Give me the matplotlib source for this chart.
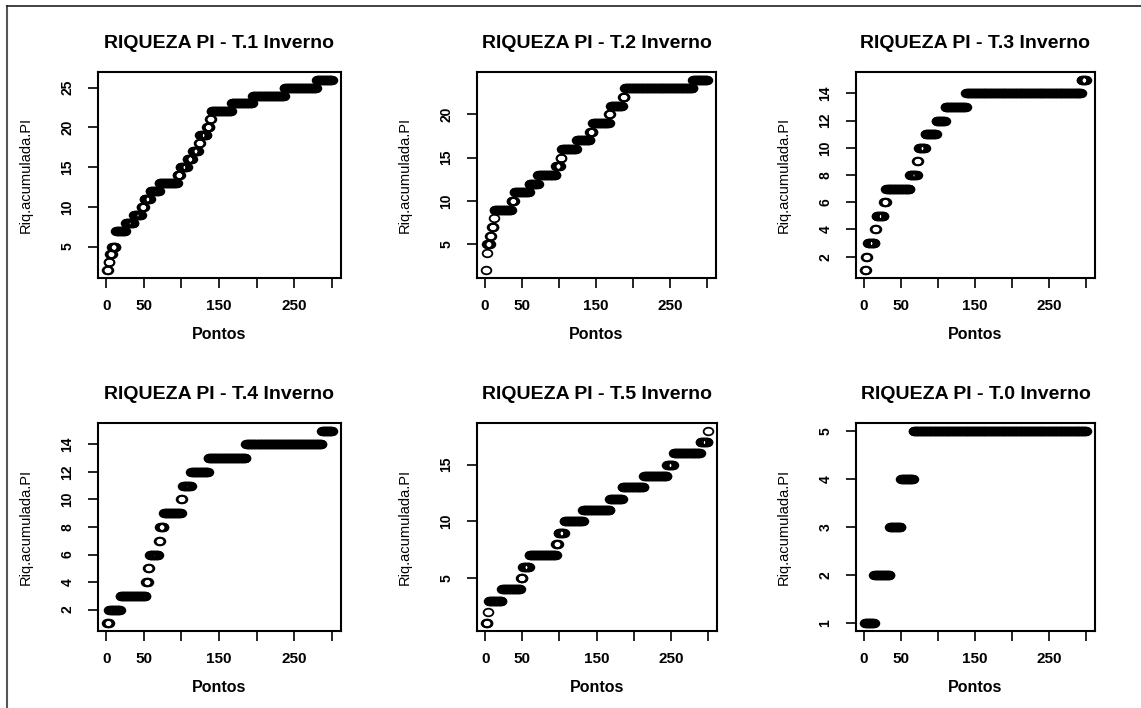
import numpy as np
import matplotlib
matplotlib.use('Agg')
import matplotlib.pyplot as plt
from matplotlib.lines import Line2D
from matplotlib.path import Path
from matplotlib.transforms import Affine2D

plt.rcParams['font.family'] = ['Liberation Sans', 'DejaVu Sans']

n_pontos = 300

titles = ['RIQUEZA PI - T.1 Inverno', 'RIQUEZA PI - T.2 Inverno',
          'RIQUEZA PI - T.3 Inverno', 'RIQUEZA PI - T.4 Inverno',
          'RIQUEZA PI - T.5 Inverno', 'RIQUEZA PI - T.0 Inverno']

# accumulated richness levels and the point index where each level starts
t1_levels = [2, 3, 4, 5, 7, 8, 9, 10, 11, 12, 13, 14, 15, 16, 17, 18, 19, 20, 21, 22, 23, 24, 25, 26]
t1_start = [1, 3, 5, 8, 13, 26, 37, 47, 51, 59, 71, 95, 99, 108, 115, 123, 125, 134, 138, 140, 167, 195, 237, 280]

t2_levels = [2, 4, 5, 6, 7, 8, 9, 10, 11, 12, 13, 14, 15, 16, 17, 18, 19, 20, 21, 22, 23, 24]
t2_start = [1, 2, 3, 7, 9, 12, 13, 36, 40, 60, 72, 96, 102, 104, 124, 142, 146, 168, 170, 186, 189, 281]

t3_levels = [1, 2, 3, 4, 5, 6, 7, 8, 9, 10, 11, 12, 13, 14, 15]
t3_start = [1, 3, 5, 15, 17, 27, 30, 62, 72, 74, 83, 98, 110, 138, 294]

t4_levels = [1, 2, 3, 4, 5, 6, 7, 8, 9, 10, 11, 12, 13, 14, 15]
t4_start = [1, 4, 19, 53, 56, 58, 70, 72, 77, 100, 102, 113, 136, 186, 287]

t5_levels = [1, 2, 3, 4, 5, 6, 7, 8, 9, 10, 11, 12, 13, 14, 15, 16, 17, 18]
t5_start = [1, 4, 5, 23, 48, 51, 60, 96, 99, 107, 132, 168, 185, 214, 245, 254, 290, 300]

t0_levels = [1, 2, 3, 4, 5]
t0_start = [1, 14, 35, 50, 67]

series = [(t1_levels, t1_start), (t2_levels, t2_start), (t3_levels, t3_start),
          (t4_levels, t4_start), (t5_levels, t5_start), (t0_levels, t0_start)]

yticks = [[5, 10, 15, 20, 25], [5, 10, 15, 20], [2, 4, 6, 8, 10, 12, 14],
          [2, 4, 6, 8, 10, 12, 14], [5, 10, 15], [1, 2, 3, 4, 5]]
xticks = [0, 50, 100, 150, 200, 250, 300]
xticklabels = ['0', '50', '', '150', '', '250', '']


def expand(levels, start):
    # one value per sampling point (step curve)
    counts = np.diff(list(start) + [n_pontos + 1])
    return np.repeat(levels, counts)


W, H = 1141, 708
fig = plt.figure(figsize=(W / 100, H / 100), dpi=100, facecolor='white')

# axes boxes in pixels: left, top, right, bottom
boxes = [(98, 72, 341, 278), (477, 72, 716, 278), (856, 72, 1095, 278),
         (98, 423, 341, 631), (477, 423, 717, 631), (856, 423, 1095, 631)]

ell = Path.unit_circle().transformed(Affine2D().scale(1.0, 0.78))

for i, (lev, st) in enumerate(series):
    l, t, r, b = boxes[i]
    ax = fig.add_axes([l / W, 1 - b / H, (r - l) / W, (b - t) / H])
    y = expand(lev, st)
    x = np.arange(1, n_pontos + 1)
    ax.plot(x, y, linestyle='none', marker=ell, markersize=7,
            markerfacecolor='none', markeredgecolor='black', markeredgewidth=1.3)
    dx = 0.04 * (x.max() - x.min())
    ax.set_xlim(x.min() - dx, x.max() + dx)
    dy = 0.04 * (y.max() - y.min())
    ax.set_ylim(y.min() - dy, y.max() + dy)

    ax.set_xticks(xticks)
    ax.set_xticklabels(xticklabels, fontsize=11, fontweight='bold')
    ax.set_yticks(yticks[i])
    ax.set_yticklabels([str(v) for v in yticks[i]], fontsize=10,
                       fontweight='bold', rotation=90, va='center')
    ax.tick_params(length=7, width=1.2, pad=8, color='black')
    ax.tick_params(axis='y', pad=10)
    for s in ax.spines.values():
        s.set_linewidth(1.5)
    ax.set_title(titles[i], fontsize=14, fontweight='bold', pad=17)
    ax.set_xlabel('Pontos', fontsize=11.5, fontweight='bold', labelpad=10)
    ax.set_ylabel('Riq.acumulada.PI', fontsize=10.5, labelpad=20)

# outer frame (left and top edges)
fig.add_artist(Line2D([7 / W, 7 / W], [0, 1 - 6 / H], color='#555555', lw=1.5))
fig.add_artist(Line2D([7 / W, 1], [1 - 6 / H, 1 - 6 / H], color='#222222', lw=1.2))

fig.savefig('out.png', dpi=100)
